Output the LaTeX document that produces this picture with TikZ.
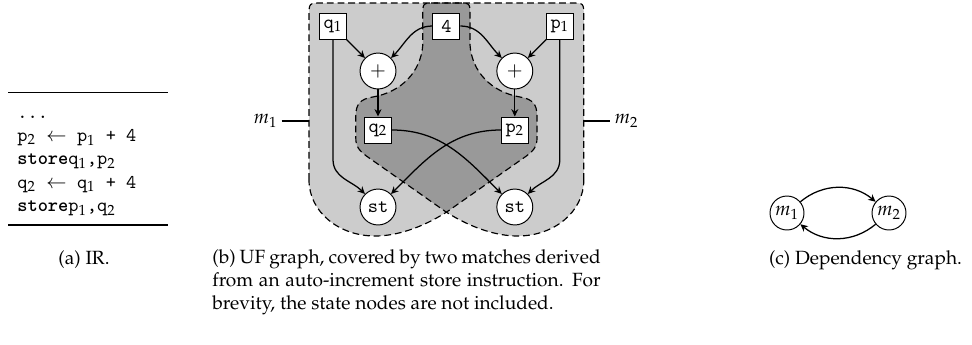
\documentclass[tikz,border=0pt]{standalone}
\usepackage[T1]{fontenc}
\usepackage{mathpazo}
\usetikzlibrary{arrows.meta}
\newcommand{\codett}{\fontencoding{TU}\fontfamily{lmtt}\fontseries{m}\selectfont}
\newcommand{\codebf}[1]{{\fontseries{b}\selectfont #1}}
\definecolor{lightreg}{gray}{0.8}
\definecolor{darkreg}{gray}{0.6}
\begin{document}
\begin{tikzpicture}[x=0.515pt,y=-0.515pt,
  box/.style={draw, fill=white, line width=0.5pt, font=\codett, minimum width=13.9pt, minimum height=13.4pt, inner sep=1pt},
  op/.style={draw, fill=white, circle, line width=0.5pt, minimum size=18.5pt, inner sep=0pt, font=\codett},
  dep/.style={draw, circle, line width=0.5pt, minimum size=17.5pt, inner sep=0pt},
  conn/.style={line width=0.65pt, -{Stealth[length=3.8pt,width=3.6pt]}},
  region/.style={draw=black, dash pattern=on 3.5pt off 2pt, line width=0.6pt},
  captxt/.style={inner sep=0pt, font=\fontsize{9.85}{11.8}\selectfont},
  codeline/.style={anchor=base west, inner sep=0pt, font=\codett\fontsize{10}{12}\selectfont},
  tabrule/.style={line width=0.8pt}
]
\useasboundingbox (0,0) rectangle (972,344);
\def\regionpath{(-137.4,180) -- (-137.4,16) .. controls (-137.4,3) .. (-124.4,3) -- (11.6,3) .. controls (23.6,3) .. (23.6,15) -- (23.6,45) .. controls (25.6,72) and (45,92) .. (73.6,97) .. controls (86,99) and (90.6,104) .. (90.6,116) -- (90.6,138) .. controls (90.6,146) and (88,150) .. (80,156) -- (0.3,212) .. controls (-25,228) and (-50,236) .. (-71.4,236) .. controls (-107.4,236) and (-137.4,212) .. (-137.4,180) -- cycle}
% regions
\begin{scope}[shift={(446.4,0)}]
  \fill[lightreg] \regionpath;
  \begin{scope}[xscale=-1]
    \fill[lightreg] \regionpath;
  \end{scope}
  \begin{scope}
    \clip \regionpath;
    \begin{scope}[xscale=-1]
      \fill[darkreg] \regionpath;
    \end{scope}
  \end{scope}
  \draw[region] \regionpath;
  \begin{scope}[xscale=-1]
    \draw[region] \regionpath;
  \end{scope}
\end{scope}
\coordinate (m1b) at (309,121);
\coordinate (m2b) at (583.8,121);
% nodes of panel b
\node[box] (q1) at (333,26) {q$_1$};
\node[box] (four) at (446.4,26) {4};
\node[box] (p1) at (559.8,26) {p$_1$};
\node[op] (plusL) at (378,71) {$+$};
\node[op] (plusR) at (514.8,71) {$+$};
\node[box] (q2) at (378,130) {q$_2$};
\node[box] (p2) at (514.8,130) {p$_2$};
\node[op] (stL) at (378,207) {st};
\node[op] (stR) at (514.8,207) {st};
\node[inner sep=2pt] (m1lab) at (265.5,121) {$m_1$};
\node[inner sep=2pt] (m2lab) at (626.5,121) {$m_2$};
\draw[line width=0.6pt] (m1lab.east) -- (m1b);
\draw[line width=0.6pt] (m2b) -- (m2lab.west);
% edges of panel b
\draw[conn] (q1) -- (plusL);
\draw[conn] (p1) -- (plusR);
\draw[conn] (four.west) to[out=180,in=45] (plusL);
\draw[conn] (four.east) to[out=0,in=135] (plusR);
\draw[conn] (plusL) -- (q2);
\draw[conn] (plusR) -- (p2);
\draw[conn] (q1.south) -- ++(0,120) to[out=-90,in=135] (stL);
\draw[conn] (p1.south) -- ++(0,120) to[out=-90,in=45] (stR);
\draw[conn] (q2.east) to[out=0,in=135] (stR);
\draw[conn] (p2.west) to[out=180,in=45] (stL);
% panel a
\draw[tabrule] (8,92.5) -- (168,92.5);
\draw[tabrule] (8,225) -- (168,225);
\node[codeline] (ir1) at (17,118) {...};
\node[codeline] (ir2) at (17,141.4) {p$_2$ $\leftarrow$ p$_1$ + 4};
\node[codeline] (ir3) at (17,164.8) {\codebf{store}q$_1$,p$_2$};
\node[codeline] (ir4) at (17,188.2) {q$_2$ $\leftarrow$ q$_1$ + 4};
\node[codeline] (ir5) at (17,211.6) {\codebf{store}p$_1$,q$_2$};
\node[captxt] (capa) at (84,260) {(a) IR.};
% panel c
\node[dep] (mc1) at (787,213) {$m_1$};
\node[dep] (mc2) at (889,213) {$m_2$};
\draw[conn] (mc1) to[bend left=40] (mc2);
\draw[conn] (mc2) to[bend left=40] (mc1);
\node[captxt] (capc) at (865.5,260) {(c) Dependency graph.};
% caption b
\node[captxt, anchor=north west, align=left] (capb) at (212,249) {\makebox[200pt][s]{(b) UF graph, covered by two matches derived}\\
\makebox[200pt][s]{from an auto-increment store instruction. For}\\
brevity, the state nodes are not included.};
\end{tikzpicture}
\end{document}
